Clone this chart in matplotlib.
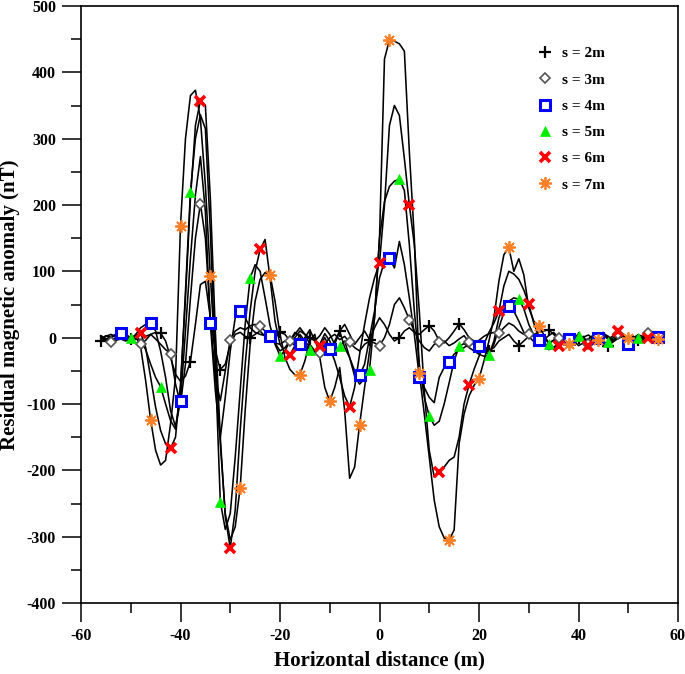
import numpy as np
import matplotlib
matplotlib.use('Agg')
import matplotlib.pyplot as plt
from matplotlib.lines import Line2D
from matplotlib.ticker import MultipleLocator

plt.rcParams['font.family'] = ['Liberation Serif', 'DejaVu Serif']
plt.rcParams['font.weight'] = 'bold'
plt.rcParams['axes.unicode_minus'] = False

# horizontal distance (m), 1 m step
x = np.arange(-56, 57)

# residual anomaly (nT)
y2 = [-5, -3, 2, 5, 0, -4, -2, 4, 6, 2,
      5, 8, 7, -5, -30, -55, -66, -58, -36, 20,
      80, 85, 30, -20, -48, -40, -10, 5, 8, 2,
      0, 5, 10, 2, -5, 0, 8, 5, -5, 0,
      10, 5, 0, -5, 3, 15, 5, -10, 10, 20,
      5, -10, 0, 10, -3, 15, 30, 20, 5, -5,
      0, 10, 15, 8, 5, 12, 18, 10, -5, -8,
      0, 10, 21, 12, 0, -5, -8, -12, -20, -15,
      -5, 0, 5, -5, -12, -5, 2, 5, 8, 10,
      12, 5, -2, -5, 0, 3, 0, -4, -2, 3,
      2, -5, -12, -6, 2, 5, -2, -4, -3, 0,
      2, 0, -1]
y3 = [3, -2, -7, -3, 4, 6, -2, -8, -10, -4,
      5, -2, -10, -18, -24, -70, -100, -40, 60, 150,
      202, 150, 30, -60, -95, -50, -3, 10, 15, 12,
      18, 20, 17, 10, 0, -8, -10, -5, -5, 5,
      15, 5, -10, -20, -23, -10, 0, 5, -3, 2,
      -7, -15, -20, -10, -5, -8, -12, 0, 20, 50,
      60, 45, 27, 10, -5, -15, -20, -10, -7, -5,
      -12, -8, -2, 3, -7, -10, -4, 2, 6, 8,
      7, 15, 22, 18, 10, 5, 5, 2, -5, -3,
      3, 8, 0, -5, -2, -8, -3, 2, -10, -5,
      3, 5, 0, -4, 6, 2, -3, 0, 4, 2,
      7, 9, 5]
y4 = [-4, 2, 5, 1, 7, 4, -3, 5, 15, 20,
      22, 10, -20, -60, -110, -134, -96, 10, 120, 215,
      273, 190, 22, -80, -151, -90, -20, 30, 40, 30,
      15, 8, 5, 3, 3, -8, -20, -15, -5, -12,
      -10, 0, 12, -5, -20, -15, -17, -5, 10, -15,
      -30, -50, -57, -40, 0, 40, 90, 115, 120, 105,
      145, 110, 60, 5, -59, -75, -90, -98, -60, -45,
      -36, -25, -18, -15, -10, -8, -12, -20, -25, -10,
      15, 38, 48, 40, 25, 8, 2, -6, -3, 0,
      -8, -4, 3, -2, -2, 2, -5, 1, 4, -2,
      0, 4, -3, -6, -1, 2, -9, -3, 1, 0,
      -1, 0, 1]
y5 = [-2, 3, 1, -4, -2, 4, 0, 3, -5, -18,
      -40, -60, -74, -100, -125, -138, -80, 70, 220, 300,
      336, 315, 160, -40, -247, -289, -265, -180, -80, 20,
      90, 110, 100, 60, 18, -10, -27, -20, -5, 8,
      2, -10, -18, -22, -10, 6, -5, -22, -13, -5,
      -30, -58, -70, -62, -48, 30, 150, 205, 228, 236,
      239, 222, 140, 40, -40, -90, -118, -132, -126, -100,
      -68, -35, -13, -9, -15, -20, -25, -28, -26, -5,
      30, 48, 55, 60, 58, 44, 20, 4, -6, -12,
      -9, -4, 3, -3, -6, 1, 2, -5, -2, 4,
      -3, -8, -7, 0, 5, 2, -3, 1, 0, -2,
      1, -1, 0]
y6 = [2, -3, -5, 0, 4, 1, -4, 3, 7, -15,
      -60, -105, -140, -160, -167, -150, -70, 60, 210, 320,
      357, 350, 210, 10, -150, -270, -317, -260, -140, -40,
      40, 100, 133, 148, 90, 25, -10, -22, -26, -12,
      5, -5, -15, -22, -13, 0, -15, -35, -60, -88,
      -104, -75, -25, 20, 60, 90, 113, 200, 320, 350,
      335, 270, 200, 140, 40, -80, -170, -210, -202, -195,
      -185, -180, -150, -100, -71, -48, -28, -10, 8, 22,
      40, 78, 100, 96, 88, 72, 51, 22, 2, -8,
      -18, -16, -13, -5, 3, -4, -12, -8, -13, -3,
      5, 8, -2, 3, 10, 4, -3, 2, -2, 1,
      -1, 2, 0]
y7 = [-3, -2, 1, 3, -2, -5, -1, 3, -15, -65,
      -124, -170, -192, -185, -130, -60, 169, 300, 365, 373,
      330, 230, 93, -30, -160, -265, -305, -285, -226, -110,
      -10, 55, 88, 98, 95, 55, 5, -30, -48, -56,
      -56, -35, -5, 5, -30, -75, -96, -75, -45, -110,
      -212, -195, -131, -75, -20, 30, 150, 420, 449, 447,
      443, 432, 280, 150, -53, -115, -180, -245, -285, -302,
      -305, -290, -160, -115, -88, -72, -62, -35, -5, 30,
      85, 125, 136, 100, 119, 95, 45, 25, 17, 5,
      -8, -15, -8, 2, -9, -2, 6, -4, -10, 2,
      -3, 6, 2, -5, 1, 4, -1, 2, -3, 1,
      3, 0, -2]

labels = ['s = 2m', 's = 3m', 's = 4m', 's = 5m', 's = 6m', 's = 7m']
series = [y2, y3, y4, y5, y6, y7]
starts = [0, 2, 4, 6, 8, 10]
styles = [
    dict(marker='+', ms=9, mew=1.6, mec='black', mfc='black'),
    dict(marker='D', ms=5.5, mew=1.2, mec='#555555', mfc='white'),
    dict(marker='s', ms=7, mew=2.2, mec='#0000ff', mfc='white'),
    dict(marker='^', ms=7.5, mew=0.5, mec='#00ee00', mfc='#00ee00'),
    dict(marker='x', ms=7, mew=2.6, mec='#ff0000', mfc='#ff0000'),
    dict(marker=(8, 2, 0), ms=9, mew=1.3, mec='#ff7f27', mfc='#ff7f27'),
]

fig = plt.figure(figsize=(6.85, 6.74), dpi=100)
ax = fig.add_axes([81/685, 1-603/674, 597/685, 597/674])

for y in series:
    ax.plot(x, y, color='black', lw=1.15, zorder=2)
for y, st, s0 in zip(series, styles, starts):
    ax.plot(x, y, ls='none', markevery=(s0, 6), zorder=3, **st)

ax.set_xlim(-60, 60)
ax.set_ylim(-400, 500)
ax.xaxis.set_major_locator(MultipleLocator(20))
ax.xaxis.set_minor_locator(MultipleLocator(10))
ax.yaxis.set_major_locator(MultipleLocator(100))
ax.yaxis.set_minor_locator(MultipleLocator(50))
ax.tick_params(which='major', direction='out', length=14, width=1.1, labelsize=11.5, pad=4)
ax.tick_params(which='minor', direction='out', length=7, width=1.1)
ax.tick_params(top=False, right=False, which='both')
for sp in ax.spines.values():
    sp.set_linewidth(1.2)

ax.set_xlabel('Horizontal distance (m)', fontsize=15, fontweight='bold', labelpad=5)
ax.set_ylabel('Residual magnetic anomaly (nT)', fontsize=15, fontweight='bold', labelpad=5)

handles = [Line2D([], [], ls='none', **st) for st in styles]
ax.legend(handles, labels, loc='upper left', bbox_to_anchor=(520/685, 1-33/674),
          bbox_transform=fig.transFigure, frameon=False, fontsize=11,
          labelspacing=0.82, handletextpad=0.35, handlelength=1.5)

plt.savefig('out.png', dpi=100)
